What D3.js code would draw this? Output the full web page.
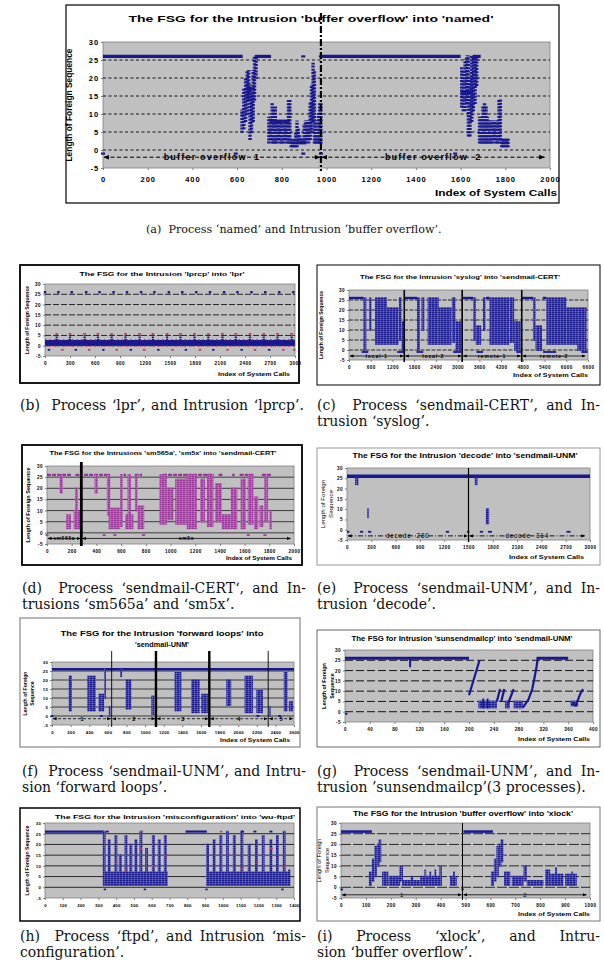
<!DOCTYPE html>
<html>
<head>
<meta charset="utf-8">
<script src="https://cdn.jsdelivr.net/npm/d3@7"></script>
<style>
body { margin: 0; background: #fff; }
svg { display: block; }
text { font-family: "Liberation Sans", Arial, sans-serif; }
.cap { font-family: "DejaVu Serif", "Liberation Serif", serif; white-space: pre; }
</style>
</head>
<body>
<svg id="fig" width="604" height="979"></svg>
<script>
const NAVY = "#181890", PURPLE = "#993399", RED = "#cc3366";

// shared y axis of every panel
const yTicks = [-5, 0, 5, 10, 15, 20, 25, 30];
const gridLevels = [0, 5, 10, 15, 20, 25];

// ---- (a) named / buffer overflow
const aXTicks = [0, 200, 400, 600, 800, 1000, 1200, 1400, 1600, 1800, 2000];
const aRuns = [[0, 625, 26], [680, 752, 26], [975, 1600, 26], [1655, 1690, 26], [745, 836, 8],
  [840, 910, 2], [640, 680, 17], [1600, 1655, 16], [1782, 1815, 2]];
const aCols = [[622, 5, 11], [630, 6, 17], [638, 8, 20], [645, 10, 22], [652, 14, 22], [658, 3, 18], [665, 5, 16],
  [672, 8, 22], [678, 14, 26], [685, 20, 26],
  [742, 2, 9], [750, 3, 9], [757, 2, 13], [764, 2, 11], [771, 2, 12], [778, 2, 8], [785, 3, 8], [792, 2, 8],
  [800, 2, 8], [808, 2, 7], [815, 3, 8], [822, 2, 8], [830, 2, 14], [836, 2, 14],
  [842, 1, 3], [848, 1, 2], [855, 1, 3], [862, 1, 5], [868, 1, 8], [874, 2, 6], [880, 2, 4], [887, 2, 3],
  [893, 2, 3], [900, 2, 7], [906, 2, 8],
  [913, 3, 8], [920, 2, 8], [927, 3, 13], [933, 5, 18], [940, 8, 24], [946, 2, 22], [952, 2, 8], [958, 2, 5],
  [964, 2, 10], [970, 2, 13], [975, 2, 13],
  [1605, 12, 23], [1612, 11, 22], [1620, 11, 25], [1628, 13, 26], [1635, 4, 26], [1642, 4, 20], [1650, 8, 26],
  [1657, 11, 26], [1665, 13, 26], [1672, 18, 26],
  [1685, 2, 9], [1692, 2, 9], [1700, 2, 12], [1707, 2, 13], [1714, 2, 12], [1720, 2, 9], [1727, 2, 8],
  [1735, 2, 8], [1742, 2, 8], [1750, 3, 8], [1757, 2, 8], [1765, 2, 8], [1772, 2, 14], [1778, 3, 14],
  [1784, 1, 3], [1790, 1, 3], [1798, 1, 3], [1806, 1, 3], [1812, 1, 3]];
const aDots = [[0, -1], [594, -1], [896, 26], [896, -1], [975, -1], [975, 26], [1576, -1]];
const aSplits = [975];
const aSegs = [[0, 975, "buffer overflow  1"], [975, 1980, "buffer overflow  2"]];

// ---- (b) lpr / lprcp
const bXTicks = [0, 300, 600, 900, 1200, 1500, 1800, 2100, 2400, 2700, 3000];
const bTop = [[0, 26], [161, 26], [321, 26], [494, 26], [655, 26], [823, 26], [984, 26], [1153, 26], [1313, 26],
  [1486, 26], [1647, 26], [1815, 26], [1980, 26], [2149, 26], [2309, 26], [2478, 26], [2643, 26], [2811, 26], [2980, 26]];
const bMidCols = [[140, 3, 5], [300, 3, 5], [475, 3, 5], [635, 3, 5], [800, 3, 5], [965, 3, 5], [1135, 3, 5],
  [1295, 3, 5], [1465, 3, 5], [1625, 3, 5], [1795, 3, 5], [1960, 3, 5], [2130, 3, 5], [2290, 3, 5], [2460, 3, 5],
  [2625, 3, 5], [2790, 3, 5], [2960, 3, 5]];
const bMidRed = [[140, 5.8], [300, 5.8], [475, 5.8], [635, 5.8], [800, 5.8], [965, 5.8], [1135, 5.8], [1295, 5.8],
  [1465, 5.8], [1625, 5.8], [1795, 5.8], [1960, 5.8], [2130, 5.8], [2290, 5.8], [2460, 5.8], [2625, 5.8],
  [2790, 5.8], [2960, 5.8]];
const bBand = [[0, 3000, 0.4], [0, 3000, 1.3], [0, 3000, 2.2]];
const bBandRed = [[0, 3000, 3], [0, 3000, -0.2]];
const bLowBlue = [[48, -2], [370, -2], [700, -2], [1030, -2], [1360, -2], [1690, -2], [2020, -2], [2360, -2], [2690, -2]];
const bLowRed = [[209, -2], [530, -2], [860, -2], [1190, -2], [1530, -2], [1860, -2], [2190, -2], [2520, -2],
  [2860, -2], [2990, -2]];

// ---- (c) sendmail-CERT / syslog
const cXTicks = [0, 600, 1200, 1800, 2400, 3000, 3600, 4200, 4800, 5400, 6000, 6600];
const cBlocks = [[400, 480, 0, 26], [560, 620, 10, 26], [720, 1050, 3, 26], [1050, 1370, 3, 21], [1380, 1450, 5, 26],
  [1450, 1520, 0, 14],
  [1880, 1960, 0, 26], [2000, 2080, 10, 26], [2170, 2480, 3, 26], [2480, 2830, 3, 21], [2840, 2940, 4, 26],
  [2940, 3100, 0, 14],
  [3430, 3500, 5, 26], [3500, 3650, 3, 12], [3700, 3770, 10, 26], [3880, 4430, 3, 26], [4440, 4560, 4, 26],
  [4560, 4740, 0, 14],
  [5080, 5150, 5, 26], [5150, 5330, 0, 12], [5450, 6000, 3, 26], [6000, 6300, 3, 21], [6300, 6560, 0, 21]];
const cRuns = [[0, 400, 26], [1530, 1880, 26], [3130, 3430, 26], [3780, 3880, 26], [4780, 5080, 26], [5350, 5450, 26]];
const cLow = [[350, 530, -1], [1330, 1520, -1], [1865, 2050, -1], [2875, 3100, -1], [3520, 3700, -1],
  [4620, 4760, -1], [5360, 5720, -1], [6415, 6590, -1]];
const cSplits = [1526, 3125, 4770];
const cSegs = [[0, 1526, "local-1"], [1526, 3125, "local-2"], [3125, 4770, "remote-1"], [4770, 6550, "remote-2"]];

// ---- (d) sendmail-CERT / sm565a, sm5x
const dXTicks = [0, 200, 400, 600, 800, 1000, 1200, 1400, 1600, 1800, 2000];
const dRuns = [[0, 200, 26], [230, 280, 26], [300, 510, 26], [620, 640, 26], [710, 770, 26], [940, 1350, 26],
  [1390, 1420, 26], [1500, 1520, 26], [1560, 1670, 26], [1740, 1820, 26]];
const dBlocks = [[102, 129, 18, 26], [156, 194, 2, 8], [216, 270, 2, 10], [229, 251, 10, 20], [385, 410, 18, 26],
  [485, 512, 8, 26], [499, 593, 2, 11], [593, 614, 3, 26], [633, 700, 2, 8], [652, 679, 8, 26], [714, 733, 10, 26],
  [733, 787, 2, 12], [911, 970, 4, 26], [970, 1024, 6, 20], [1038, 1132, 4, 24], [1132, 1213, 2, 26],
  [1240, 1280, 5, 24], [1295, 1348, 3, 26], [1361, 1415, 5, 22], [1415, 1488, 2, 8], [1488, 1541, 2, 20],
  [1568, 1610, 2, 24], [1625, 1671, 4, 26], [1676, 1710, 2, 16], [1720, 1752, 3, 12], [1760, 1790, 5, 26],
  [1800, 1819, 2, 10]];
const dDots = [[0, -1], [463, -1], [550, -1], [782, -1], [1630, -1], [1765, -1]];
const dSplits = [278];
const dSegs = [[0, 278, "sm565a"], [278, 1980, "sm5x"]];

// ---- (e) sendmail-UNM / decode
const eXTicks = [0, 300, 600, 900, 1200, 1500, 1800, 2100, 2400, 2700, 3000];
const eRuns = [[0, 3000, 26]];
const eBlocks = [[100, 140, 22, 25], [250, 272, 6, 10], [1578, 1612, 22, 25], [1714, 1755, 3, 10]];
const eLow = [[0, 30, -1], [160, 200, -1], [260, 300, -1], [1220, 1260, -1], [1480, 1510, -1], [1640, 1680, -1],
  [1740, 1790, -1], [2710, 2760, -1]];
const eSplits = [1500];
const eSegs = [[0, 1500, "decode  280"], [1500, 2950, "decode  314"]];

// ---- (f) sendmail-UNM / forward loops
const fXTicks = [0, 200, 400, 600, 800, 1000, 1200, 1400, 1600, 1800, 2000, 2200, 2400, 2600];
const fRuns = [[0, 2600, 26]];
const fBlocks = [[180, 215, 3, 22], [380, 470, 3, 22], [500, 560, 3, 12], [560, 575, 10, 26], [610, 630, 0, 5],
  [734, 750, 22, 26], [791, 852, 4, 20], [1067, 1100, 1, 11],
  [1317, 1390, 3, 24], [1496, 1586, 2, 20], [1604, 1675, 2, 12],
  [1872, 1926, 6, 20], [2069, 2159, 2, 22], [2195, 2266, 2, 14],
  [2330, 2345, 0, 5], [2490, 2530, 3, 24], [2545, 2588, 3, 8]];
const fDots = [[0, 0], [530, 0], [2213, 0], [2445, 0]];
const fSplits = [641, 1117, 1690, 2323];
const fSegs = [[0, 641, "1"], [641, 1117, "2"], [1117, 1690, "3"], [1690, 2323, "4"], [2323, 2600, "5"]];

// ---- (g) sendmail-UNM / sunsendmailcp
const gXTicks = [0, 40, 80, 120, 160, 200, 240, 280, 320, 360, 400];
const gRuns = [[0, 200, 26], [309, 360, 26]];
const gCols = [[105, 22, 26], [223, 2, 6], [230, 2, 6]];
const gBlocks = [[215, 245, 2, 5], [258, 266, 2, 5], [272, 287, 2, 5], [364, 376, 3, 5]];
const gLines = [[[200, 8], [217, 25]], [[245, 5], [250, 11]], [[252, 5], [257, 11]], [[263, 4], [272, 11]],
  [[287, 2], [296, 6], [302, 11], [306, 17], [309, 22], [311, 26]], [[366, 4], [372, 3], [376, 6], [380, 9], [384, 11]]];
const gDots = [[2, -1]];

// ---- (h) wu-ftpd / misconfiguration
const hXTicks = [0, 100, 200, 300, 400, 500, 600, 700, 800, 900, 1000, 1100, 1200, 1300, 1400];
const hRuns = [[0, 330, 26], [790, 910, 26]];
const hBase = [[330, 690, 1, 7], [910, 1375, 1, 7]];
const hTeeth = [[325, 341, 1, 26], [353, 369, 1, 22], [391, 407, 1, 24], [415, 431, 1, 15], [447, 463, 1, 24],
  [475, 491, 1, 20], [503, 519, 1, 22], [531, 547, 1, 26], [563, 579, 1, 18], [601, 617, 1, 24], [634, 650, 1, 22],
  [668, 684, 1, 24],
  [906, 922, 1, 20], [943, 959, 1, 22], [981, 997, 1, 24], [1018, 1034, 1, 26], [1056, 1072, 1, 24],
  [1099, 1115, 1, 26], [1140, 1156, 1, 20], [1181, 1197, 1, 22], [1219, 1235, 1, 24], [1262, 1278, 1, 22],
  [1299, 1315, 1, 24], [1337, 1353, 1, 26], [1368, 1380, 1, 8]];
const hRed = [[400, 12], [459, 8], [540, 18], [613, 10], [680, 14], [1030, 16], [1111, 9], [1193, 12], [1274, 18],
  [1349, 10], [990, 26], [545, 26]];
const hTop = [[350, 26], [1110, 26], [1180, 26], [1270, 26]];
const hLow = [[337, -1], [562, -1], [908, -1], [1335, -1]];

// ---- (i) xlock / buffer overflow
const iXTicks = [0, 100, 200, 300, 400, 500, 600, 700, 800, 900, 1000];
const iRuns = [[0, 124, 26], [492, 610, 26]];
const iBlocks = [[112, 124, 1, 7], [124, 134, 3, 13], [134, 144, 5, 19], [144, 154, 10, 20], [151, 162, 12, 22],
  [165, 190, 1, 7], [191, 238, 1, 5], [235, 249, 3, 10], [245, 318, 1, 3], [280, 290, 1, 5], [318, 405, 1, 5],
  [335, 342, 1, 8], [355, 362, 1, 7], [375, 382, 1, 8], [395, 405, 1, 10], [438, 465, 1, 5], [450, 456, 1, 7],
  [602, 614, 1, 7], [614, 624, 3, 13], [624, 634, 5, 19], [634, 644, 10, 20], [641, 652, 12, 22],
  [655, 680, 1, 7], [686, 733, 1, 5], [733, 746, 3, 10], [746, 813, 1, 3], [820, 840, 1, 8], [840, 893, 1, 6],
  [860, 866, 1, 9], [900, 947, 1, 6], [925, 932, 1, 7]];
const iDots = [[3, -1], [488, -1]];
const iSplits = [488];
const iSegs = [[0, 488, "1"], [488, 990, "2"]];

const svg = d3.select("#fig");
const defs = svg.append("defs");

// dense marker texture: solid colour with thin light gaps between the stacked markers
function makePattern(id, color, gap) {
  const p = defs.append("pattern").attr("id", id).attr("patternUnits", "userSpaceOnUse")
    .attr("width", 3).attr("height", 2);
  p.append("rect").attr("width", 3).attr("height", 2).attr("fill", color);
  p.append("rect").attr("y", 1.5).attr("width", 3).attr("height", 0.5).attr("fill", gap);
  p.append("rect").attr("x", 2.5).attr("width", 0.5).attr("height", 2).attr("fill", gap);
}
makePattern("dotsSmall", NAVY, "#7c7cb4");
makePattern("dotsPurple", PURPLE, "#c48cc4");

function makeArrow(id, size) {
  defs.append("marker").attr("id", id).attr("viewBox", "0 0 10 10")
    .attr("refX", 9).attr("refY", 5).attr("markerWidth", size).attr("markerHeight", size)
    .attr("markerUnits", "userSpaceOnUse").attr("orient", "auto-start-reverse")
    .append("path").attr("d", "M0,1L10,5L0,9z").attr("fill", "#000");
}
makeArrow("arrBig", 6);
makeArrow("arrSmall", 4);

function drawPanel(c) {
  const g = svg.append("g");
  const [fx0, fy0, fx1, fy1] = c.frame;
  const [px0, py0, px1, py1] = c.plot;
  g.append("rect").attr("x", fx0).attr("y", fy0).attr("width", fx1 - fx0).attr("height", fy1 - fy0)
    .attr("fill", "#fff").attr("stroke", c.frameStroke).attr("stroke-width", c.frameWidth);

  const x = d3.scaleLinear().domain(c.xDomain).range([px0, px1]);
  const y = d3.scaleLinear().domain([-5, 30]).range([py1, py0]);

  g.append("rect").attr("x", px0).attr("y", py0).attr("width", px1 - px0).attr("height", py1 - py0)
    .attr("fill", "#c0c0c0").attr("stroke", "#808080").attr("stroke-width", 0.8);

  if (c.grid) {
    g.append("g").selectAll("line").data(gridLevels).join("line")
      .attr("x1", px0).attr("x2", px1).attr("y1", d => y(d)).attr("y2", d => y(d))
      .attr("stroke", "#000").attr("stroke-width", c.grid.w).attr("stroke-dasharray", c.grid.dash);
  }

  // axes
  const fmt = d => String(d);
  const ax = g.append("g").attr("transform", `translate(0,${py1})`)
    .call(d3.axisBottom(x).tickValues(c.xTicks).tickFormat(fmt).tickSize(2).tickPadding(c.tickPad));
  const ay = g.append("g").attr("transform", `translate(${px0},0)`)
    .call(d3.axisLeft(y).tickValues(yTicks).tickFormat(fmt).tickSize(2).tickPadding(2));
  [ax, ay].forEach(a => {
    a.select(".domain").remove();
    a.selectAll("line").attr("stroke", "#808080");
    a.selectAll("text").attr("font-size", c.tickFont).attr("font-weight", "bold")
      .attr("letter-spacing", c.tickSpacing).attr("fill", "#000")
      .attr("font-family", "'Liberation Sans', Arial, sans-serif");
  });

  // titles
  c.title.forEach(t => {
    const tx = g.append("text").attr("x", t.x).attr("y", t.y).attr("text-anchor", "middle")
      .attr("font-size", t.size).attr("font-weight", "bold").text(t.t);
    if (t.len) tx.attr("textLength", t.len).attr("lengthAdjust", "spacingAndGlyphs");
  });
  const cy = (py0 + py1) / 2;
  c.yTitle.forEach(t => {
    const tx = g.append("text").attr("transform", `translate(${t.x},${cy}) rotate(-90)`)
      .attr("text-anchor", "middle").attr("font-size", t.size)
      .attr("font-weight", t.bold === false ? "normal" : "bold").text(t.t);
    if (t.len) tx.attr("textLength", t.len).attr("lengthAdjust", "spacingAndGlyphs");
  });
  if (c.xTitle) {
    const t = c.xTitle;
    g.append("text").attr("x", t.x).attr("y", t.y).attr("text-anchor", "end")
      .attr("font-size", t.size).attr("font-weight", "bold")
      .attr("textLength", t.len).attr("lengthAdjust", "spacingAndGlyphs").text(t.t);
  }

  // data layers
  c.layers.forEach(L => {
    const s = g.append("g");
    if (L.kind === "blocks") {
      s.selectAll("rect").data(L.data).join("rect")
        .attr("x", d => x(d[0])).attr("width", d => Math.max(1.8, x(d[1]) - x(d[0])))
        .attr("y", d => y(d[3]) - 0.8).attr("height", d => y(d[2]) - y(d[3]) + 1.6)
        .attr("fill", `url(#${L.pattern})`);
    } else if (L.kind === "cols") {
      s.selectAll("line").data(L.data).join("line")
        .attr("x1", d => x(d[0])).attr("x2", d => x(d[0]))
        .attr("y1", d => y(d[1]) + 0.8).attr("y2", d => y(d[2]) - 0.8)
        .attr("stroke", L.color).attr("stroke-width", L.w).attr("stroke-dasharray", L.dash || null);
    } else if (L.kind === "runs") {
      s.selectAll("line").data(L.data).join("line")
        .attr("x1", d => x(d[0])).attr("x2", d => x(d[1]))
        .attr("y1", d => y(d[2])).attr("y2", d => y(d[2]))
        .attr("stroke", L.color).attr("stroke-width", L.w).attr("stroke-dasharray", L.dash || null);
    } else if (L.kind === "lines") {
      const line = d3.line().x(d => x(d[0])).y(d => y(d[1]));
      s.selectAll("path").data(L.data).join("path").attr("d", line)
        .attr("fill", "none").attr("stroke", L.color).attr("stroke-width", L.w)
        .attr("stroke-dasharray", L.dash || null);
    } else if (L.kind === "dots") {
      s.selectAll("rect").data(L.data).join("rect")
        .attr("x", d => x(d[0]) - L.w / 2).attr("y", d => y(d[1]) - L.h / 2)
        .attr("width", L.w).attr("height", L.h).attr("fill", L.color);
    }
  });

  // segment arrows with labels
  if (c.segs) {
    const sy = y(c.segs.y);
    c.segs.data.forEach(d => {
      g.append("line").attr("x1", x(d[0]) + 1).attr("x2", x(d[1]) - 1).attr("y1", sy).attr("y2", sy)
        .attr("stroke", "#000").attr("stroke-width", c.segs.w).attr("stroke-dasharray", c.segs.dash || null)
        .attr("marker-start", `url(#${c.segs.marker})`).attr("marker-end", `url(#${c.segs.marker})`);
      const lx = x((d[0] + d[1]) / 2);
      g.append("text").attr("x", lx).attr("y", sy + c.segs.size * 0.36).attr("text-anchor", "middle")
        .attr("font-size", c.segs.size).attr("font-weight", c.segs.bold ? "bold" : "normal")
        .attr("letter-spacing", c.segs.spacing || 0).style("white-space", "pre").text(d[2]);
    });
  }

  // separators between intrusion runs
  if (c.splits) {
    g.append("g").selectAll("line").data(c.splits.data).join("line")
      .attr("x1", d => x(d)).attr("x2", d => x(d))
      .attr("y1", c.splits.top).attr("y2", py1 + c.splits.below)
      .attr("stroke", "#000").attr("stroke-width", (d, i) => c.splits.w[i])
      .attr("stroke-dasharray", c.splits.dash || null);
  }
}

const panels = [
  { // (a)
    frame: [66, 5, 559, 203], frameStroke: "#000", frameWidth: 1.2,
    plot: [103, 42, 550, 168], xDomain: [0, 2000], xTicks: aXTicks,
    tickFont: 7.5, tickSpacing: 0.9, tickPad: 7,
    grid: { w: 0.9, dash: "3,2.5" },
    title: [{ t: "The FSG for the Intrusion 'buffer overflow' into 'named'", x: 311, y: 22, size: 8.5, len: 365 }],
    yTitle: [{ t: "Length of Foreign Sequence", x: 72, size: 9, len: 113 }],
    xTitle: { t: "Index of System Calls", x: 557, y: 196, size: 8.5, len: 122 },
    layers: [
      { kind: "runs", data: aRuns, color: NAVY, w: 3.2 },
      { kind: "cols", data: aCols, color: NAVY, w: 3.4, dash: "2,1.2" },
      { kind: "dots", data: aDots, color: NAVY, w: 4, h: 2.2 }
    ],
    segs: { data: aSegs, y: -2, w: 1, dash: "4,2.5", marker: "arrBig", size: 9, bold: true, spacing: 1.2 },
    splits: { data: aSplits, w: [2.2], dash: "7,2,2,2", top: 13, below: 3 }
  },
  { // (b)
    frame: [20, 265, 299, 383], frameStroke: "#000", frameWidth: 1.8,
    plot: [45, 284, 295, 356], xDomain: [0, 3000], xTicks: bXTicks,
    tickFont: 4.6, tickSpacing: 0.5, tickPad: 4,
    grid: { w: 0.8, dash: "6,2" },
    title: [{ t: "The FSG for the Intrusion 'lprcp' into 'lpr'", x: 162, y: 276, size: 6, len: 165 }],
    yTitle: [{ t: "Length of Foreign Sequence", x: 29, size: 5.2, len: 68 }],
    xTitle: { t: "Index of System Calls", x: 290, y: 376, size: 5.5, len: 72 },
    layers: [
      { kind: "runs", data: bBand, color: NAVY, w: 2.4 },
      { kind: "runs", data: bBandRed, color: RED, w: 1.2, dash: "1.5,3" },
      { kind: "cols", data: bMidCols, color: NAVY, w: 2.2, dash: "1.5,0.8" },
      { kind: "dots", data: bMidRed, color: RED, w: 2.6, h: 1.6 },
      { kind: "dots", data: bTop, color: NAVY, w: 2.4, h: 2.4 },
      { kind: "dots", data: bLowBlue, color: NAVY, w: 2.4, h: 1.8 },
      { kind: "dots", data: bLowRed, color: RED, w: 2.4, h: 1.8 }
    ]
  },
  { // (c)
    frame: [317, 265, 600, 385], frameStroke: "#000", frameWidth: 1,
    plot: [349, 290, 588, 360], xDomain: [0, 6600], xTicks: cXTicks,
    tickFont: 4.6, tickSpacing: 0.4, tickPad: 4,
    grid: { w: 0.8, dash: "4,1.5" },
    title: [{ t: "The FSG for the Intrusion 'syslog' into 'sendmail-CERT'", x: 460, y: 279, size: 6, len: 200 }],
    yTitle: [{ t: "Length of Foreign Sequence", x: 323, size: 5.2, len: 68 }],
    xTitle: { t: "Index of System Calls", x: 588, y: 377, size: 5.5, len: 75 },
    layers: [
      { kind: "blocks", data: cBlocks, pattern: "dotsSmall" },
      { kind: "runs", data: cRuns, color: NAVY, w: 2.4 },
      { kind: "runs", data: cLow, color: NAVY, w: 1.8 }
    ],
    segs: { data: cSegs, y: -3, w: 0.8, marker: "arrSmall", size: 5.2, bold: true, spacing: 0.8 },
    splits: { data: cSplits, w: [1.6, 1.6, 1.6], top: 290, below: 2 }
  },
  { // (d)
    frame: [22, 445, 302, 565], frameStroke: "#000", frameWidth: 1.8,
    plot: [47, 466, 294, 544], xDomain: [0, 2000], xTicks: dXTicks,
    tickFont: 4.6, tickSpacing: 0.4, tickPad: 4,
    grid: { w: 0.7, dash: null },
    title: [{ t: "The FSG for the Intrusions 'sm565a', 'sm5x' into 'sendmail-CERT'", x: 163, y: 454.5, size: 6, len: 227 }],
    yTitle: [{ t: "Length of Foreign Sequence", x: 30, size: 5, len: 75 }],
    xTitle: { t: "Index of System Calls", x: 292, y: 560, size: 5.5, len: 66 },
    layers: [
      { kind: "runs", data: dRuns, color: PURPLE, w: 2.4, dash: "4,1" },
      { kind: "blocks", data: dBlocks, pattern: "dotsPurple" },
      { kind: "dots", data: dDots, color: PURPLE, w: 3, h: 1.6 }
    ],
    segs: { data: dSegs, y: -2.5, w: 0.8, marker: "arrSmall", size: 5, bold: true, spacing: 0.6 },
    splits: { data: dSplits, w: [2.8], top: 462, below: 2 }
  },
  { // (e)
    frame: [317, 448, 600, 565], frameStroke: "#999", frameWidth: 1,
    plot: [347, 468, 590, 540], xDomain: [0, 3000], xTicks: eXTicks,
    tickFont: 4.6, tickSpacing: 0.4, tickPad: 4,
    grid: null,
    title: [{ t: "The FSG for the Intrusion 'decode' into 'sendmail-UNM'", x: 465, y: 457.5, size: 7, len: 225 }],
    yTitle: [{ t: "Length of Foreign", x: 325, size: 6.2, bold: false },
             { t: "Sequence", x: 333, size: 6.2, bold: false }],
    xTitle: { t: "Index of System Calls", x: 584, y: 559, size: 5.5, len: 75 },
    layers: [
      { kind: "runs", data: eRuns, color: NAVY, w: 3.4 },
      { kind: "blocks", data: eBlocks, pattern: "dotsSmall" },
      { kind: "runs", data: eLow, color: NAVY, w: 1.8 }
    ],
    segs: { data: eSegs, y: -3, w: 0.9, dash: "5,2,1,2", marker: "arrSmall", size: 6.3, bold: false, spacing: 0.8 },
    splits: { data: eSplits, w: [1.2], top: 468, below: 2 }
  },
  { // (f)
    frame: [20, 618, 300, 747], frameStroke: "#888", frameWidth: 1.2,
    plot: [52, 662, 294, 725], xDomain: [0, 2600], xTicks: fXTicks,
    tickFont: 4.3, tickSpacing: 0.2, tickPad: 4,
    grid: { w: 0.7, dash: null },
    title: [{ t: "The FSG for the Intrusion 'forward loops' into", x: 162, y: 636, size: 8, len: 203 },
            { t: "'sendmail-UNM'", x: 162, y: 646.5, size: 8, len: 54 }],
    yTitle: [{ t: "Length of Foreign", x: 27, size: 5.2 }, { t: "Sequence", x: 34, size: 5.2 }],
    xTitle: { t: "Index of System Calls", x: 290, y: 742, size: 5.5, len: 70 },
    layers: [
      { kind: "runs", data: fRuns, color: NAVY, w: 2.6 },
      { kind: "blocks", data: fBlocks, pattern: "dotsSmall" },
      { kind: "dots", data: fDots, color: NAVY, w: 3, h: 1.8 }
    ],
    segs: { data: fSegs, y: -1.5, w: 0.8, dash: "3,2", marker: "arrSmall", size: 6, bold: true },
    splits: { data: fSplits, w: [0.9, 2.4, 2.4, 0.9], top: 651, below: 2 }
  },
  { // (g)
    frame: [317, 630, 600, 747], frameStroke: "#666", frameWidth: 1,
    plot: [345, 650, 593, 722], xDomain: [0, 400], xTicks: gXTicks,
    tickFont: 4.6, tickSpacing: 0.4, tickPad: 4,
    grid: { w: 0.9, dash: "8,3" },
    title: [{ t: "The FSG for Intrusion 'sunsendmailcp' into 'sendmail-UNM'", x: 462, y: 640.5, size: 7, len: 221 }],
    yTitle: [{ t: "Length of Foreign", x: 326, size: 5.4 }, { t: "Sequence", x: 334, size: 5.4 }],
    xTitle: { t: "Index of System Calls", x: 590, y: 741, size: 5.5, len: 72 },
    layers: [
      { kind: "runs", data: gRuns, color: NAVY, w: 2.8 },
      { kind: "blocks", data: gBlocks, pattern: "dotsSmall" },
      { kind: "cols", data: gCols, color: NAVY, w: 2 },
      { kind: "lines", data: gLines, color: NAVY, w: 2.2 },
      { kind: "dots", data: gDots, color: NAVY, w: 2.4, h: 2 }
    ]
  },
  { // (h)
    frame: [20, 808, 300, 921], frameStroke: "#000", frameWidth: 1.5,
    plot: [45, 823, 294, 898], xDomain: [0, 1400], xTicks: hXTicks,
    tickFont: 4.3, tickSpacing: 0.2, tickPad: 4,
    grid: { w: 0.8, dash: null },
    title: [{ t: "The FSG for the Intrusion 'misconfiguration' into 'wu-ftpd'", x: 175, y: 818.5, size: 6, len: 240 }],
    yTitle: [{ t: "Length of Foreign Sequence", x: 29, size: 5, len: 70 }],
    xTitle: null,
    layers: [
      { kind: "runs", data: hRuns, color: NAVY, w: 2.2 },
      { kind: "blocks", data: hBase, pattern: "dotsSmall" },
      { kind: "blocks", data: hTeeth, pattern: "dotsSmall" },
      { kind: "dots", data: hRed, color: RED, w: 2.4, h: 1.6 },
      { kind: "dots", data: hTop, color: NAVY, w: 3, h: 1.8 },
      { kind: "dots", data: hLow, color: NAVY, w: 2.4, h: 1.6 }
    ]
  },
  { // (i)
    frame: [317, 807, 600, 921], frameStroke: "#777", frameWidth: 1,
    plot: [341, 823, 590, 898], xDomain: [0, 1000], xTicks: iXTicks,
    tickFont: 4.6, tickSpacing: 0.4, tickPad: 4,
    grid: { w: 0.8, dash: "10,2" },
    title: [{ t: "The FSG for the Intrusion 'buffer overflow' into 'xlock'", x: 463, y: 815.5, size: 6.5, len: 220 }],
    yTitle: [{ t: "Length of Foreign", x: 321, size: 5.6, bold: false },
             { t: "Sequence", x: 329, size: 5.6, bold: false }],
    xTitle: { t: "Index of System Calls", x: 590, y: 916, size: 5.5, len: 72 },
    layers: [
      { kind: "runs", data: iRuns, color: NAVY, w: 2.6 },
      { kind: "blocks", data: iBlocks, pattern: "dotsSmall" },
      { kind: "dots", data: iDots, color: NAVY, w: 2.4, h: 2 }
    ],
    segs: { data: iSegs, y: -3.5, w: 0.8, marker: "arrSmall", size: 6, bold: false },
    splits: { data: iSplits, w: [1], top: 823, below: 2 }
  }
];

panels.forEach(drawPanel);

// sub-figure captions; a justified line is shrunk if too wide, otherwise its slack goes to word spacing
const captions = [
  { t: "(a)  Process ‘named’ and Intrusion ‘buffer overflow’.", x: 146, y: 233, len: 296, size: 14 },
  { t: "(b)  Process ‘lpr’, and Intrusion ‘lprcp’.", x: 20, y: 410, len: 284 },
  { t: "(c)  Process ‘sendmail-CERT’, and In-", x: 317, y: 410, len: 283 },
  { t: "trusion ‘syslog’.", x: 317, y: 426 },
  { t: "(d)  Process ‘sendmail-CERT‘, and In-", x: 22, y: 593, len: 284 },
  { t: "trusions ‘sm565a’ and ‘sm5x’.", x: 22, y: 609 },
  { t: "(e)  Process ‘sendmail-UNM’, and In-", x: 317, y: 593, len: 283 },
  { t: "trusion ‘decode’.", x: 317, y: 609 },
  { t: "(f)  Process ‘sendmail-UNM’, and Intru-", x: 22, y: 776, len: 284 },
  { t: "sion ‘forward loops’.", x: 22, y: 792 },
  { t: "(g)  Process ‘sendmail-UNM’, and In-", x: 317, y: 776, len: 283 },
  { t: "trusion ’sunsendmailcp’(3 processes).", x: 317, y: 792 },
  { t: "(h)  Process ‘ftpd’, and Intrusion ‘mis-", x: 20, y: 941, len: 286 },
  { t: "configuration’.", x: 20, y: 957 },
  { t: "(i)   Process   ‘xlock’,   and   Intru-", x: 317, y: 941, len: 283 },
  { t: "sion ‘buffer overflow’.", x: 317, y: 957 }
];
captions.forEach(c => {
  const size = c.size || 14;
  const t = svg.append("text").attr("class", "cap").attr("x", c.x).attr("y", c.y)
    .attr("font-size", size).attr("fill", "#111").text(c.t);
  if (c.len) {
    const natural = t.node().getComputedTextLength();
    const spaces = (c.t.match(/ /g) || []).length;
    if (natural > c.len) t.attr("font-size", size * c.len / natural);
    else if (spaces) t.attr("word-spacing", (c.len - natural) / spaces);
  }
});
</script>
</body>
</html>
